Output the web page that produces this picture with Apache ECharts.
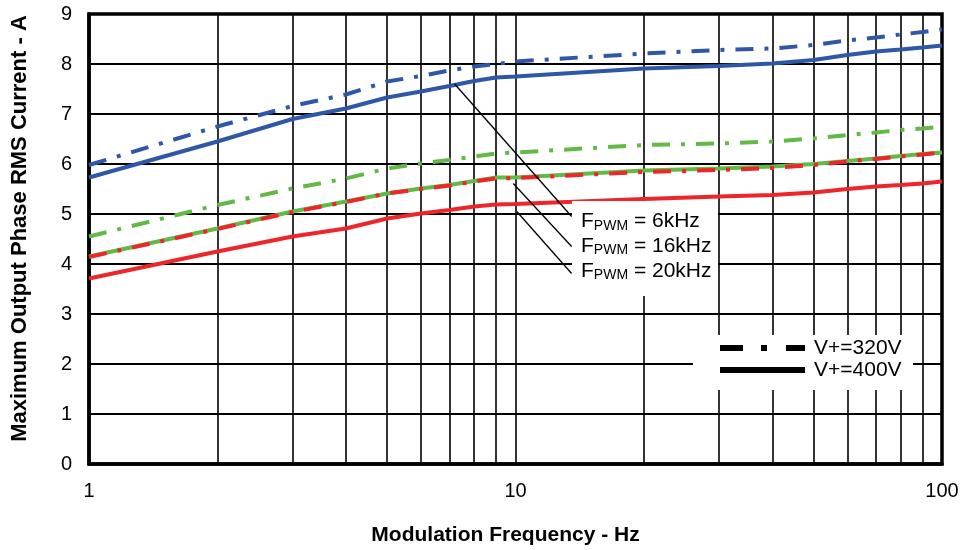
<!DOCTYPE html>
<html>
<head>
<meta charset="utf-8">
<script src="https://cdn.jsdelivr.net/npm/echarts@6/dist/echarts.min.js"></script>
<style>
html,body{margin:0;padding:0;background:#fff;}
#chart{width:964px;height:550px;}
</style>
</head>
<body>
<div id="chart"></div>
<script>
// ---- data ----
const freqs = [1,2,3,4,5,6,7,8,9,10,20,30,40,50,60,70,80,90,100];
const blue320  = [5.98,6.75,7.16,7.39,7.65,7.76,7.87,7.95,8.00,8.05,8.21,8.28,8.31,8.38,8.47,8.53,8.59,8.64,8.69];
const blue400  = [5.73,6.45,6.90,7.11,7.33,7.45,7.56,7.66,7.73,7.75,7.91,7.96,8.01,8.08,8.18,8.25,8.29,8.33,8.37];
const green320 = [4.55,5.18,5.51,5.71,5.91,6.01,6.08,6.15,6.21,6.23,6.38,6.41,6.45,6.51,6.58,6.63,6.68,6.71,6.75];
const green400 = [4.15,4.71,5.05,5.25,5.41,5.51,5.58,5.66,5.73,5.73,5.87,5.91,5.95,6.00,6.06,6.11,6.16,6.20,6.23];
const red320   = [4.14,4.70,5.04,5.24,5.41,5.50,5.57,5.65,5.71,5.72,5.84,5.88,5.92,5.98,6.05,6.10,6.15,6.19,6.23];
const red400   = [3.71,4.25,4.55,4.71,4.91,5.01,5.08,5.15,5.19,5.20,5.30,5.35,5.38,5.43,5.50,5.55,5.58,5.61,5.65];
const minorX = [2,3,4,5,6,7,8,9,20,30,40,50,60,70,80,90];
const yTicks = [0,1,2,3,4,5,6,7,8,9];
const xTickLabels = ['1','10','100'];
// annotation pointers: [start, end] in data coords
const pointers = [
  [[7.2,7.60],[13.54,4.95]],
  [[9.88,5.61],[13.54,4.35]],
  [[10.07,5.05],[13.54,3.81]]
];
const fpwmLabels = ['6kHz','16kHz','20kHz'];
const legendLabels = ['V+=320V','V+=400V'];

const FONT = "'Liberation Sans', Arial, sans-serif";
const C_BLUE = '#2F57A8', C_GREEN = '#62B946', C_RED = '#EE2529';
const DASHDOT = [18,11,4,11];

function pts(arr){ return freqs.map((f,i)=>[f, arr[i]]); }
function mkSeries(name, arr, color, dashed, z){
  return {
    name, type:'line', data: pts(arr), showSymbol:false, symbol:'none',
    smooth:false, z: z, silent:true,
    lineStyle:{ color, width:4, type: dashed ? DASHDOT : 'solid', cap:'butt' }
  };
}

const chart = echarts.init(document.getElementById('chart'), null, {renderer:'canvas'});
const option = {
  animation:false,
  backgroundColor:'#fff',
  textStyle:{ fontFamily: FONT },
  grid:{ left:89, right:22, top:14, bottom:86, outerBoundsMode:'none', containLabel:false,
    show:true, borderColor:'#000', borderWidth:3.5, backgroundColor:'transparent' },
  xAxis:{
    type:'log', logBase:10, min:1, max:100,
    axisLine:{ show:true, lineStyle:{ color:'#000', width:3.5 } },
    axisTick:{ show:false },
    splitLine:{ show:true, lineStyle:{ color:'#000', width:1.6 } },
    axisLabel:{ fontSize:20, color:'#000', margin:17, fontFamily:FONT,
      formatter:(v)=>{ const s=String(Math.round(v)); return xTickLabels.includes(s)?s:''; } },
    name:'Modulation Frequency - Hz', nameLocation:'middle', nameGap:61,
    nameTextStyle:{ fontSize:21, fontWeight:'bold', color:'#000', fontFamily:FONT, padding:[0,20,0,0] }
  },
  yAxis:{
    type:'value', min:0, max:9, interval:1,
    axisLine:{ show:true, lineStyle:{ color:'#000', width:3.5 } },
    axisTick:{ show:false },
    splitLine:{ show:true, lineStyle:{ color:'#000', width:2 } },
    axisLabel:{ fontSize:20, color:'#000', margin:17, fontFamily:FONT,
      formatter:(v)=> yTicks.includes(v) ? String(v) : '' },
    name:'Maximum Output Phase RMS Current - A', nameLocation:'middle', nameGap:58,
    nameTextStyle:{ fontSize:22, fontWeight:'bold', color:'#000', fontFamily:FONT, padding:[0,0,0,21] }
  },
  series:[
    { name:'grid-minor', type:'line', data:[[1,0]], showSymbol:false, symbol:'none', z:1, silent:true,
      lineStyle:{ opacity:0 },
      markLine:{ silent:true, symbol:['none','none'], label:{show:false}, z:1,
        lineStyle:{ color:'#000', width:1.6, type:'solid' },
        data: minorX.map(v=>({ xAxis:v })) } },
    mkSeries('blue320', blue320, C_BLUE, true, 3),
    mkSeries('blue400', blue400, C_BLUE, false, 3),
    mkSeries('green320', green320, C_GREEN, true, 3),
    mkSeries('green400', green400, C_GREEN, false, 3),
    mkSeries('red320', red320, C_RED, true, 4),
    mkSeries('red400', red400, C_RED, false, 3),
    { name:'pointers', type:'line', data:[[1,0]], showSymbol:false, symbol:'none', z:6, silent:true,
      lineStyle:{ opacity:0 },
      markLine:{ silent:true, symbol:['none','none'], label:{show:false}, z:6,
        lineStyle:{ color:'#000', width:1.3, type:'solid' },
        data: pointers.map(p=>[{coord:p[0]},{coord:p[1]}]) } }
  ]
};
chart.setOption(option);

// annotation boxes & legend (pixel-positioned decorations)
const rich = {
  f:{ fontSize:21, fontFamily:FONT, color:'#000', lineHeight:23 },
  s:{ fontSize:14, fontFamily:FONT, color:'#000', lineHeight:10, verticalAlign:'bottom' }
};
const rowsY = [221.5, 246, 271];
const graphics = [
  { type:'rect', z:10, shape:{ x:572, y:201, width:146, height:95 }, style:{ fill:'#fff' } },
  { type:'rect', z:10, shape:{ x:693, y:335, width:220, height:55 }, style:{ fill:'#fff' } },
  { type:'line', z:11, shape:{ x1:720, y1:348, x2:805, y2:348 }, style:{ stroke:'#000', lineWidth:6, lineDash:[23,18,6,19] } },
  { type:'line', z:11, shape:{ x1:720, y1:370, x2:805, y2:370 }, style:{ stroke:'#000', lineWidth:6 } },
  { type:'text', z:11, x:814, y:348, style:{ text:legendLabels[0], font:'21px '+FONT, fill:'#000', verticalAlign:'middle' } },
  { type:'text', z:11, x:814, y:370, style:{ text:legendLabels[1], font:'21px '+FONT, fill:'#000', verticalAlign:'middle' } }
];
fpwmLabels.forEach((lab,i)=>{
  graphics.push({ type:'text', z:11, x:581, y:rowsY[i],
    style:{ text:'{f|F}{s|PWM}{f| = '+lab+'}', rich, verticalAlign:'middle', fill:'#000' } });
});
chart.setOption({ graphic: graphics });
</script>
</body>
</html>
